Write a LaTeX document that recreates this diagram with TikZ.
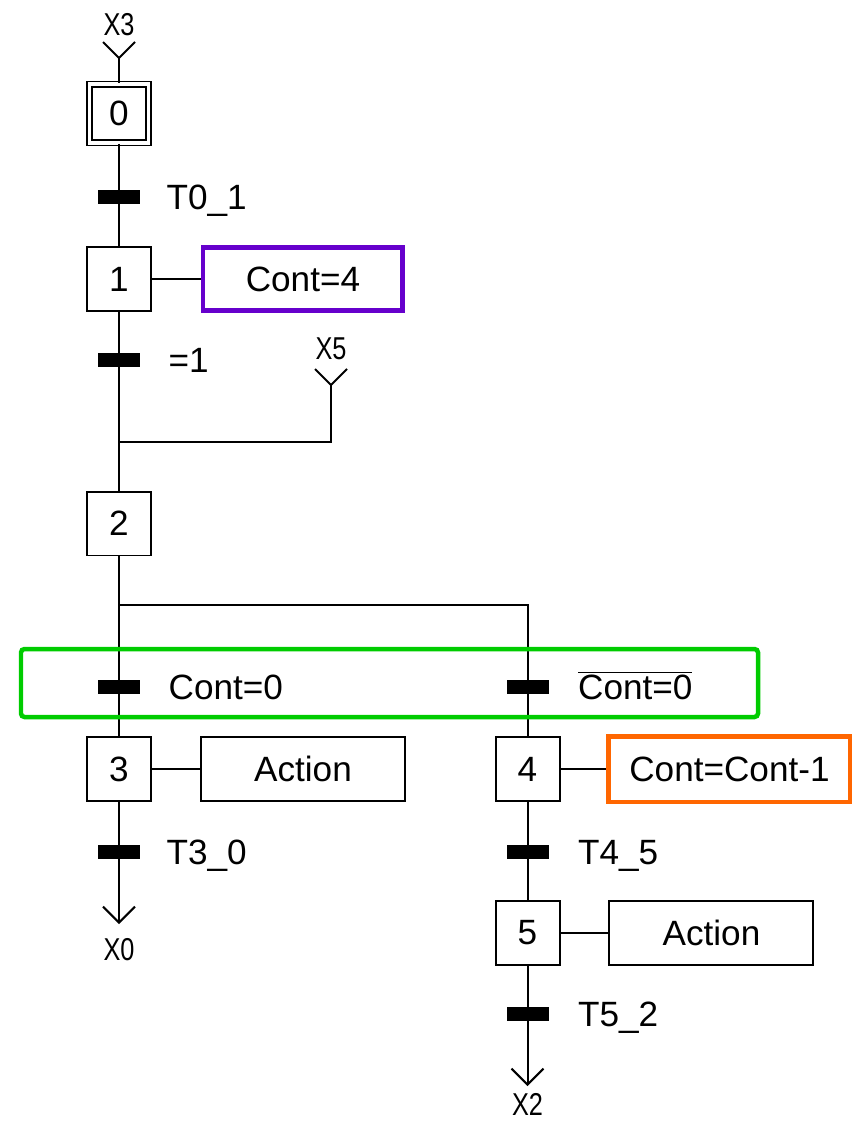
\documentclass[tikz,border=0pt]{standalone}
\usepackage{fontspec}
\setmainfont{Liberation Sans}
\usepackage{graphicx}
\usepackage{tikz}
\usetikzlibrary{
    positioning,
    arrows.meta,
    calc
}
\definecolor{purplebox}{RGB}{102,0,204}
\definecolor{greenbox}{RGB}{0,204,0}
\definecolor{orangebox}{RGB}{255,102,0}
\newcommand{\narrowtag}[1]{\scalebox{0.8}[1]{#1}}
\tikzset{
  basic/.style = {
      draw,
      rectangle,
      line width=0.04cm,
      inner sep=0pt,
      align=center,
      font=\fontsize{20}{24}\selectfont
  },
  stepbox/.style = {
      basic,
      minimum size=1.28cm
  },
  initstep/.style = {
      basic,
      line width=0.035cm,
      double,
      double distance=0.07cm,
      minimum size=1.18cm
  },
  action/.style = {
      basic,
      minimum width=4.08cm,
      minimum height=1.28cm
  },
  marked/.style = {
      action,
      line width=0.09cm
  },
  bar/.style = {
      fill=black,
      minimum width=0.84cm,
      minimum height=0.28cm,
      inner sep=0pt
  },
  cond/.style = {
      inner sep=0pt,
      text height=0.5cm,
      text depth=0cm,
      font=\fontsize{20}{24}\selectfont
  },
  tag/.style = {
      inner sep=0pt,
      text height=0.45cm,
      text depth=0cm,
      font=\fontsize{18}{21}\selectfont
  },
  link/.style = {
      line width=0.04cm
  },
  exit/.style = {
      link,
      -{Straight Barb[length=0.32cm, width=0.64cm]}
  }
}

\begin{document}
\begin{tikzpicture}[x=0.02cm, y=-0.02cm]
    \useasboundingbox (0,0) rectangle (857,1122);
    % Steps
    \node[initstep] (s0) at (119,113.5) {0};
    \node[stepbox] (s1) at (119,279) {1};
    \node[stepbox] (s2) at (119,523.5) {2};
    \node[stepbox] (s3) at (119,769) {3};
    \node[stepbox] (s4) at (527.5,769) {4};
    \node[stepbox] (s5) at (527.5,933) {5};
    % Actions
    \node[marked, draw=purplebox, minimum width=3.99cm, minimum height=1.27cm, right=0.98cm of s1] (a1) {Cont=4};
    \node[action, right=0.96cm of s3] (a3) {Action};
    \node[marked, draw=orangebox, minimum width=4.83cm, minimum height=1.31cm, right=0.92cm of s4] (a4) {Cont=Cont-1};
    \node[action, right=0.96cm of s5] (a5) {Action};
    % Entries and exits
    \node[tag] (x3) at (119,24) {\narrowtag{X3}};
    \coordinate (x3tip) at (119,58);
    \node[tag] (x5) at (331,348) {\narrowtag{X5}};
    \coordinate (x5tip) at (331,385);
    \coordinate (join5) at (119,442);
    \coordinate (fork) at (119,605);
    \coordinate (x0tip) at (119,924);
    \node[tag] (x0) at (119,949) {\narrowtag{X0}};
    \coordinate (x2tip) at (527.5,1086);
    \node[tag] (x2) at (527.5,1104) {\narrowtag{X2}};
    % Links
    \draw[link] ($(x3tip)+(-16,-16)$) -- (x3tip) -- ++(16,-16);
    \draw[link] (x3tip) -- (s0);
    \draw[link] (s0) -- (s1);
    \draw[link] (s1) -- (s2);
    \draw[link] ($(x5tip)+(-16,-16)$) -- (x5tip) -- ++(16,-16);
    \draw[link] (x5tip) |- (join5);
    \draw[link] (s2) -- (s3);
    \draw[link] (fork) -| (s4);
    \draw[exit] (s3) -- (x0tip);
    \draw[link] (s4) -- (s5);
    \draw[exit] (s5) -- (x2tip);
    \draw[link] (s1) -- (a1);
    \draw[link] (s3) -- (a3);
    \draw[link] (s4) -- (a4);
    \draw[link] (s5) -- (a5);
    % Transitions
    \node[bar] (t01) at (119,197) {};
    \node[cond, right=0.52cm of t01] (c01) {T0\_1};
    \node[bar] (t12) at (119,360) {};
    \node[cond, right=0.56cm of t12] (c12) {=1};
    \node[bar] (t23) at (119,687) {};
    \node[cond, right=0.56cm of t23] (c23) {Cont=0};
    \node[bar] (t24) at (527.5,687) {};
    \node[cond, right=0.58cm of t24] (c24) {$\overline{\mbox{Cont=0}}$};
    \node[bar] (t30) at (119,852) {};
    \node[cond, right=0.52cm of t30] (c30) {T3\_0};
    \node[bar] (t45) at (527.5,852) {};
    \node[cond, right=0.58cm of t45] (c45) {T4\_5};
    \node[bar] (t52) at (527.5,1014) {};
    \node[cond, right=0.58cm of t52] (c52) {T5\_2};
    % Highlight
    \draw[greenbox, line width=0.09cm, rounded corners=2pt] (21,649) rectangle (758,717);
\end{tikzpicture}
\end{document}
